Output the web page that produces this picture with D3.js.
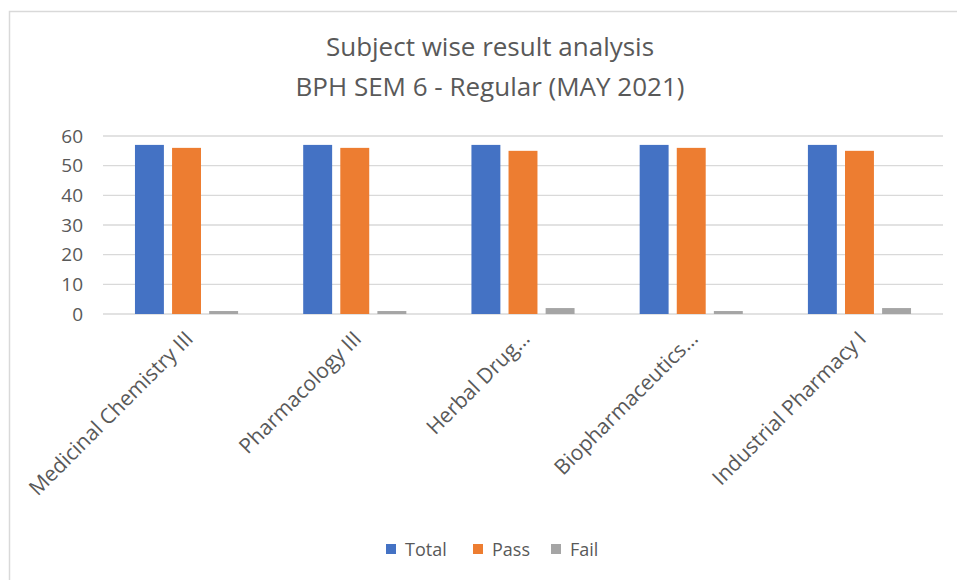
<!DOCTYPE html>
<html><head><meta charset="utf-8">
<script src="https://cdn.jsdelivr.net/npm/d3@7"></script>
<style>body{margin:0;background:#fff}svg{display:block}text{font-family:"Open Sans",Lato,sans-serif}</style>
</head><body><svg id="c" width="957" height="580"></svg>
<script>
const categories = ["Medicinal Chemistry III","Pharmacology III","Herbal Drug…","Biopharmaceutics…","Industrial Pharmacy I"];
const seriesNames = ["Total","Pass","Fail"];
const total = [57,57,57,57,57];
const pass = [56,56,55,56,55];
const fail = [1,1,2,1,2];
const yTicks = [0,10,20,30,40,50,60];
const colors = ["#4472C4","#ED7D31","#A5A5A5"];
const titleLines = ["Subject wise result analysis","BPH SEM 6 - Regular (MAY 2021)"];

const series = [total, pass, fail];
const svg = d3.select("#c");
// chart border
svg.append("rect").attr("x",9.5).attr("y",11.5).attr("width",980).attr("height",600)
  .attr("fill","#fff").attr("stroke","#d9d9d9").attr("stroke-width",1.5);

const m = {left:103, right:943, top:136, bottom:314};
const x0 = d3.scaleBand().domain(categories).range([m.left,m.right]).paddingInner(0.387).paddingOuter(0.19);
const x1 = d3.scaleBand().domain(seriesNames).range([0,x0.bandwidth()]).paddingInner(0.22);
const y = d3.scaleLinear().domain([0,60]).range([m.bottom,m.top]);

// gridlines
svg.append("g").selectAll("line").data(yTicks).join("line")
  .attr("x1",m.left).attr("x2",m.right).attr("y1",d=>y(d)).attr("y2",d=>y(d))
  .attr("stroke","#d9d9d9").attr("stroke-width",1.3);

// y axis labels
const yAxis = d3.axisLeft(y).tickValues(yTicks).tickSize(0).tickPadding(20);
const yg = svg.append("g").attr("transform",`translate(${m.left},0)`).call(yAxis);
yg.select(".domain").remove();
yg.selectAll("text").attr("fill","#595959").style("font-size","19px").style("font-family","'Open Sans',sans-serif");

// bars
const groups = svg.append("g").selectAll("g").data(categories).join("g")
  .attr("transform",d=>`translate(${x0(d)},0)`);
groups.selectAll("rect").data((d,i)=>seriesNames.map((s,j)=>({s,v:series[j][i],c:colors[j]}))).join("rect")
  .attr("x",d=>x1(d.s)).attr("width",x1.bandwidth())
  .attr("y",d=>y(d.v)).attr("height",d=>y(0)-y(d.v)).attr("fill",d=>d.c);

// x axis labels
const xAxis = d3.axisBottom(x0).tickSize(0).tickPadding(0);
const xg = svg.append("g").attr("transform",`translate(0,${m.bottom})`).call(xAxis);
xg.select(".domain").remove();
xg.selectAll("text").attr("fill","#595959").style("font-size","21px").style("font-family","'Open Sans',sans-serif")
  .attr("text-anchor","end").attr("dy",null).attr("y",0)
  .attr("transform","translate(8,26) rotate(-45)");

// title
svg.append("g").selectAll("text").data(titleLines).join("text")
  .attr("x",490).attr("y",(d,i)=>56+i*40).attr("text-anchor","middle")
  .attr("fill","#595959").style("font-size","26px").text(d=>d);

// legend
const legendX = [386,473,551];
const lg = svg.append("g").selectAll("g").data(seriesNames).join("g")
  .attr("transform",(d,i)=>`translate(${legendX[i]},549)`);
lg.append("rect").attr("x",0).attr("y",-5).attr("width",10).attr("height",10).attr("fill",(d,i)=>colors[i]);
lg.append("text").attr("x",19).attr("y",6.5).attr("fill","#595959").style("font-size","18px").text(d=>d);
</script></body></html>
